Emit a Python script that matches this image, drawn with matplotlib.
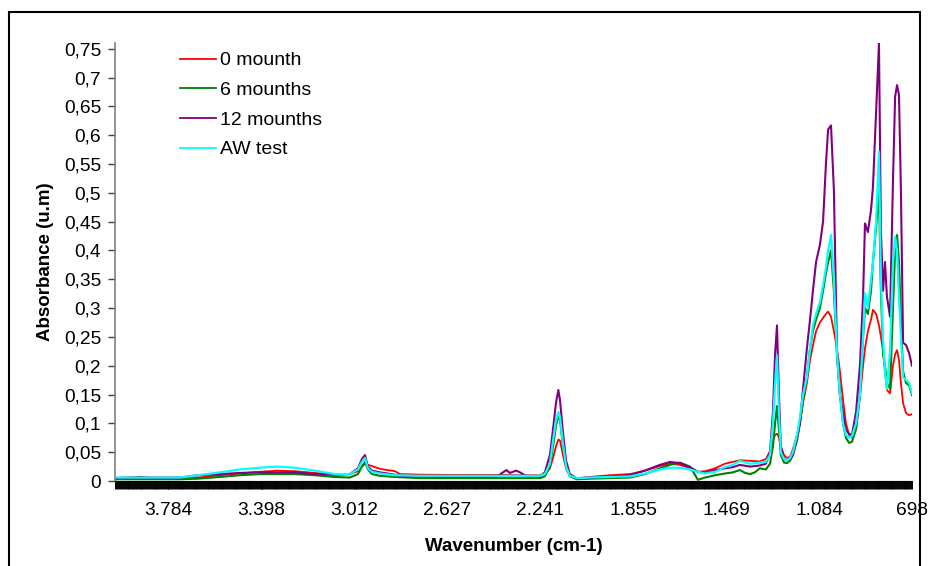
import numpy as np
import matplotlib
matplotlib.use("Agg")
import matplotlib.pyplot as plt
from matplotlib.ticker import FixedLocator
from matplotlib.patches import Rectangle

plt.rcParams['font.family'] = ['Liberation Sans', 'DejaVu Sans']

# ---------------- data ----------------
series_names = ["0 mounth", "6 mounths", "12 mounths", "AW test"]
series_colors = ["#ff0000", "#008000", "#800080", "#00ffff"]

wn_red = [4000, 3735, 3660, 3569, 3486, 3403, 3332, 3258, 3175, 3092, 3030, 2996, 2980, 2967, 2955, 2938,
          2905, 2843, 2822, 2739, 2615, 2490, 2407, 2324, 2241, 2221, 2200, 2187, 2175, 2165, 2158, 2146,
          2133, 2117, 2088, 2034, 1951, 1868, 1806, 1743, 1702, 1661, 1619, 1586, 1557, 1515, 1474, 1412,
          1370, 1329, 1304, 1287, 1275, 1266, 1258, 1250, 1242, 1229, 1217, 1204, 1192, 1175, 1163, 1150,
          1134, 1121, 1109, 1096, 1080, 1067, 1055, 1046, 1034, 1022, 1009, 997, 984, 972, 959, 947,
          930, 914, 901, 893, 881, 868, 860, 847, 835, 827, 818, 810, 802, 789, 777, 768, 760, 752,
          744, 735, 723, 710, 698]
abs_red = [0.004, 0.004, 0.006, 0.010, 0.013, 0.016, 0.018, 0.017, 0.014, 0.011, 0.012, 0.017, 0.025, 0.030, 0.028, 0.026,
           0.021, 0.017, 0.012, 0.011, 0.0105, 0.0105, 0.0105, 0.010, 0.010, 0.012, 0.022, 0.040, 0.060, 0.072, 0.070, 0.045,
           0.022, 0.010, 0.005, 0.007, 0.010, 0.012, 0.018, 0.026, 0.030, 0.028, 0.022, 0.016, 0.017, 0.022, 0.030, 0.036,
           0.035, 0.034, 0.038, 0.052, 0.070, 0.080, 0.082, 0.076, 0.060, 0.045, 0.040, 0.042, 0.055, 0.080, 0.100, 0.135,
           0.170, 0.210, 0.235, 0.260, 0.275, 0.283, 0.290, 0.294, 0.285, 0.260, 0.230, 0.190, 0.140, 0.100, 0.080, 0.075,
           0.090, 0.146, 0.200, 0.230, 0.260, 0.280, 0.297, 0.290, 0.270, 0.250, 0.227, 0.190, 0.158, 0.152, 0.200, 0.220, 0.227, 0.210,
           0.170, 0.135, 0.118, 0.114, 0.116]

wn_green = [4000, 3735, 3660, 3569, 3486, 3403, 3332, 3258, 3175, 3092, 3030, 2996, 2980, 2967, 2955, 2938,
            2905, 2843, 2739, 2615, 2490, 2407, 2324, 2241, 2221, 2200, 2187, 2175, 2165, 2158, 2146, 2133,
            2117, 2088, 2034, 1951, 1868, 1806, 1743, 1702, 1661, 1619, 1600, 1586, 1557, 1515, 1474, 1441,
            1412, 1390, 1370, 1350, 1329, 1304, 1287, 1275, 1266, 1258, 1250, 1242, 1229, 1217, 1204, 1192,
            1175, 1163, 1150, 1134, 1121, 1109, 1096, 1080, 1067, 1055, 1046, 1034, 1022, 1009, 997, 984,
            972, 959, 947, 930, 914, 901, 893, 881, 868, 860, 847, 835, 827, 818, 810, 802, 789, 777,
            768, 760, 752, 744, 735, 723, 710, 698]
abs_green = [0.003, 0.003, 0.004, 0.007, 0.010, 0.012, 0.012, 0.012, 0.010, 0.007, 0.006, 0.012, 0.025, 0.033, 0.020, 0.012,
             0.009, 0.007, 0.005, 0.005, 0.005, 0.005, 0.005, 0.005, 0.008, 0.025, 0.060, 0.095, 0.114, 0.105, 0.060, 0.025,
             0.008, 0.003, 0.004, 0.005, 0.006, 0.012, 0.022, 0.028, 0.032, 0.025, 0.012, 0.002, 0.006, 0.010, 0.013, 0.015,
             0.019, 0.014, 0.012, 0.015, 0.022, 0.020, 0.030, 0.060, 0.100, 0.130, 0.090, 0.045, 0.032, 0.031, 0.035, 0.045,
             0.070, 0.100, 0.140, 0.180, 0.230, 0.260, 0.280, 0.300, 0.330, 0.360, 0.380, 0.400, 0.330, 0.220, 0.150, 0.100,
             0.075, 0.066, 0.068, 0.090, 0.150, 0.250, 0.300, 0.290, 0.330, 0.380, 0.440, 0.500, 0.330, 0.220, 0.200, 0.170, 0.160, 0.300,
             0.400, 0.427, 0.380, 0.280, 0.190, 0.170, 0.166, 0.149]

wn_purple = [4000, 3900, 3860, 3735, 3660, 3569, 3486, 3420, 3332, 3258, 3175, 3092, 3030, 2996, 2980, 2967,
             2955, 2938, 2905, 2843, 2822, 2739, 2615, 2490, 2420, 2380, 2366, 2353, 2340, 2324, 2300, 2241,
             2221, 2200, 2187, 2175, 2165, 2158, 2146, 2133, 2117, 2088, 2034, 1951, 1868, 1806, 1743, 1702,
             1661, 1619, 1586, 1557, 1515, 1474, 1441, 1412, 1370, 1329, 1304, 1287, 1275, 1266, 1258, 1250,
             1242, 1229, 1217, 1204, 1192, 1175, 1163, 1150, 1134, 1121, 1109, 1096, 1080, 1067, 1055, 1046,
             1034, 1022, 1009, 997, 984, 972, 959, 947, 930, 914, 901, 893, 881, 868, 860, 847, 835, 827,
             818, 810, 802, 789, 777, 768, 760, 752, 744, 735, 723, 710, 698]
abs_purple = [0.005, 0.007, 0.006, 0.006, 0.010, 0.012, 0.014, 0.015, 0.015, 0.015, 0.012, 0.011, 0.012, 0.022, 0.038, 0.045,
              0.025, 0.018, 0.015, 0.011, 0.009, 0.008, 0.0075, 0.0075, 0.008, 0.019, 0.014, 0.016, 0.018, 0.015, 0.009, 0.008,
              0.015, 0.045, 0.090, 0.135, 0.158, 0.140, 0.085, 0.035, 0.012, 0.004, 0.006, 0.008, 0.010, 0.018, 0.028, 0.033,
              0.031, 0.024, 0.016, 0.014, 0.019, 0.022, 0.024, 0.028, 0.025, 0.027, 0.030, 0.050, 0.120, 0.220, 0.270, 0.150,
              0.060, 0.038, 0.036, 0.040, 0.045, 0.075, 0.100, 0.160, 0.230, 0.280, 0.330, 0.380, 0.410, 0.450, 0.550, 0.610,
              0.617, 0.505, 0.220, 0.150, 0.118, 0.088, 0.082, 0.080, 0.120, 0.200, 0.320, 0.447, 0.432, 0.470, 0.510, 0.640, 0.760, 0.435,
              0.330, 0.380, 0.320, 0.285, 0.520, 0.667, 0.687, 0.670, 0.505, 0.240, 0.236, 0.222, 0.200]

wn_cyan = [4000, 3735, 3660, 3569, 3486, 3403, 3332, 3258, 3175, 3092, 3030, 2996, 2980, 2967, 2955, 2938,
           2905, 2843, 2739, 2615, 2490, 2407, 2324, 2241, 2221, 2200, 2187, 2175, 2165, 2158, 2146, 2133,
           2117, 2088, 2034, 1951, 1868, 1806, 1743, 1702, 1661, 1619, 1586, 1557, 1515, 1474, 1441, 1412,
           1370, 1329, 1304, 1287, 1275, 1266, 1258, 1250, 1242, 1229, 1217, 1204, 1192, 1175, 1163, 1150,
           1134, 1121, 1109, 1096, 1080, 1067, 1055, 1046, 1034, 1022, 1009, 997, 984, 972, 959, 947,
           930, 914, 901, 893, 881, 868, 860, 847, 835, 827, 818, 810, 802, 789, 777, 768, 760, 752,
           744, 735, 723, 710, 698]
abs_cyan = [0.006, 0.006, 0.010, 0.015, 0.020, 0.023, 0.025, 0.023, 0.018, 0.012, 0.012, 0.020, 0.033, 0.040, 0.022, 0.016,
            0.013, 0.010, 0.009, 0.009, 0.009, 0.009, 0.009, 0.009, 0.012, 0.030, 0.070, 0.105, 0.120, 0.110, 0.065, 0.025,
            0.009, 0.005, 0.006, 0.007, 0.008, 0.013, 0.020, 0.023, 0.023, 0.020, 0.016, 0.013, 0.016, 0.024, 0.028, 0.035,
            0.030, 0.032, 0.033, 0.045, 0.100, 0.170, 0.218, 0.120, 0.050, 0.038, 0.036, 0.040, 0.050, 0.080, 0.110, 0.150,
            0.180, 0.230, 0.270, 0.290, 0.310, 0.340, 0.370, 0.400, 0.427, 0.350, 0.220, 0.150, 0.100, 0.080, 0.075, 0.078,
            0.100, 0.150, 0.250, 0.326, 0.300, 0.350, 0.378, 0.450, 0.571, 0.350, 0.245, 0.190, 0.160, 0.227, 0.378, 0.424, 0.400, 0.320,
            0.250, 0.180, 0.175, 0.170, 0.152]

x_tick_values = [3784, 3398, 3012, 2627, 2241, 1855, 1469, 1084, 698]
x_tick_labels = ["3.784", "3.398", "3.012", "2.627", "2.241", "1.855", "1.469", "1.084", "698"]
y_tick_values = [0, 0.05, 0.1, 0.15, 0.2, 0.25, 0.3, 0.35, 0.4, 0.45, 0.5, 0.55, 0.6, 0.65, 0.7, 0.75]
y_tick_labels = ["0", "0,05", "0,1", "0,15", "0,2", "0,25", "0,3", "0,35", "0,4", "0,45",
                 "0,5", "0,55", "0,6", "0,65", "0,7", "0,75"]

# ---------------- figure ----------------
W, H = 930, 566
fig = plt.figure(figsize=(W / 100, H / 100), dpi=100)
fig.patch.set_facecolor("white")

# outer chart border
fig.patches.append(Rectangle((9 / W, -0.02), (920 - 9) / W, 1 - 12 / H + 0.02,
                             transform=fig.transFigure, fill=False,
                             edgecolor="black", linewidth=1.5))

left, right, top, bottom = 115, 912, 43, 481
ax = fig.add_axes([left / W, 1 - bottom / H, (right - left) / W, (bottom - top) / H])

xs = [wn_red, wn_green, wn_purple, wn_cyan]
ys = [abs_red, abs_green, abs_purple, abs_cyan]
lws = [1.3, 1.5, 1.5, 1.6]
for x, y, c, n, lw in zip(xs, ys, series_colors, series_names, lws):
    ax.plot(x, y, color=c, lw=lw, label=n)

ax.set_xlim(4004, 698)
ax.set_ylim(0, 0.76)

ax.set_xticks(x_tick_values)
ax.set_xticklabels(x_tick_labels)
ax.xaxis.set_minor_locator(FixedLocator(np.arange(698, 4004, 3.86)))
ax.tick_params(axis="x", which="both", direction="out", length=6, width=0.7,
               color="black", labelsize=13.8)
ax.tick_params(axis="x", which="major", pad=9)

ax.set_yticks(y_tick_values)
ax.set_yticklabels(y_tick_labels)
ax.tick_params(axis="y", which="major", direction="out", length=5, width=1,
               color="#404040", labelsize=13.8, pad=5)

for s in ["top", "right"]:
    ax.spines[s].set_visible(False)
ax.spines["left"].set_color("#808080")
ax.spines["left"].set_linewidth(1.2)
ax.spines["bottom"].set_color("black")

ax.set_xlabel("Wavenumber (cm-1)", fontsize=13.5, fontweight="bold", labelpad=14)
ax.set_ylabel("Absorbance (u.m)", fontsize=13.5, fontweight="bold", labelpad=7)

leg = ax.legend(loc="upper left", bbox_to_anchor=((180 - left) / (right - left), 0.98),
                frameon=False, fontsize=14, handlelength=1.85, handletextpad=0.22,
                labelspacing=0.62, borderpad=0, borderaxespad=0)
for h in leg.get_lines():
    h.set_linewidth(1.3)

fig.savefig("out.png", dpi=100, facecolor="white")
